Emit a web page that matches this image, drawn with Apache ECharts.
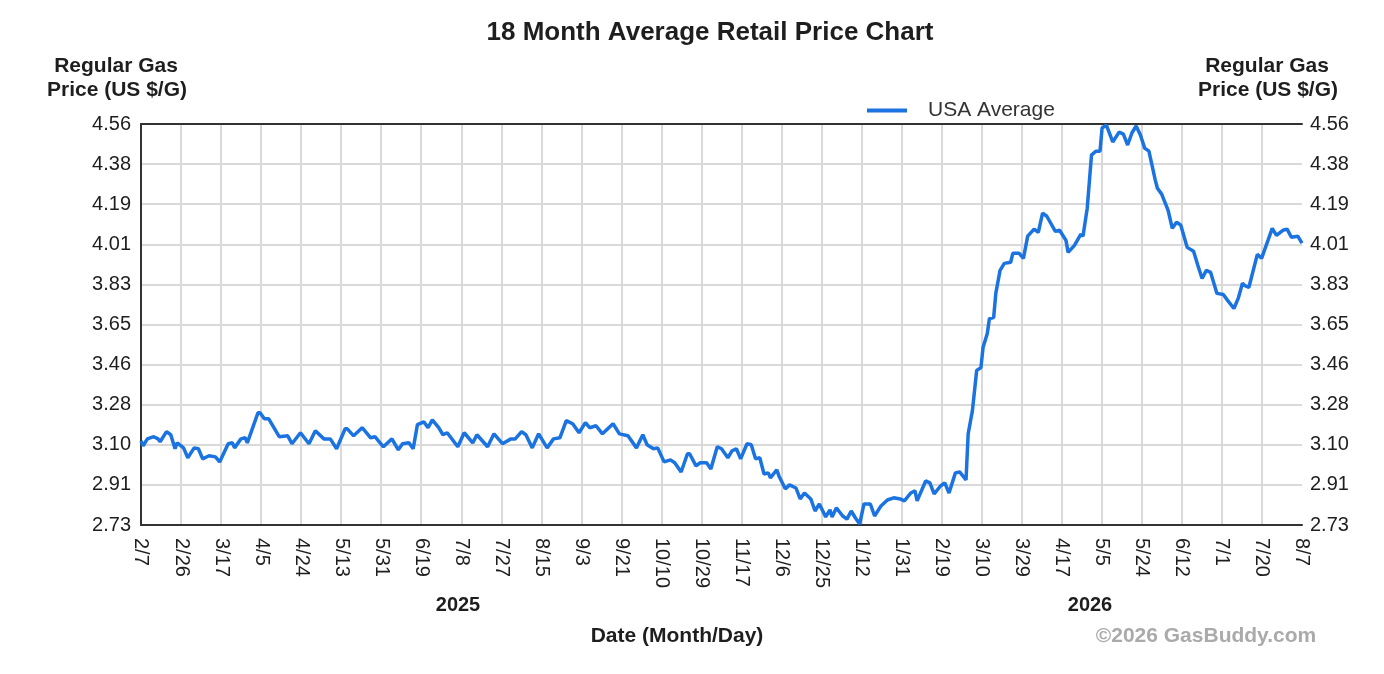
<!DOCTYPE html>
<html>
<head>
<meta charset="utf-8">
<title>18 Month Average Retail Price Chart</title>
<script src="https://cdn.jsdelivr.net/npm/echarts@6/dist/echarts.min.js"></script>
<style>
  html, body { margin: 0; padding: 0; background: #fff; }
  #chart { width: 1384px; height: 674px; }
</style>
</head>
<body>
<div id="chart"></div>
<script>
// days counted from the first date on the axis (2/7/2025)
const START = Date.UTC(2025, 1, 7);
const SPAN_DAYS = 546;
const TICK_COUNT = 29;

const dayOffsets = [
  0, 1, 3, 6, 8, 9, 12, 14, 16, 17, 20, 22, 25, 27, 29, 32, 35, 37, 41, 43,
  44, 47, 49, 50, 55, 56, 58, 60, 65, 69, 71, 75, 79, 82, 86, 89, 92, 96, 97, 100,
  104, 108, 110, 114, 118, 121, 123, 126, 128, 130, 133, 135, 137, 140, 142, 144, 149, 152, 156, 158,
  163, 166, 170, 174, 176, 179, 181, 184, 187, 191, 194, 197, 200, 203, 206, 209, 211, 214, 217, 222,
  225, 229, 233, 236, 238, 241, 243, 246, 249, 251, 254, 257, 258, 261, 263, 266, 268, 271, 273, 276,
  278, 280, 282, 285, 287, 289, 291, 293, 295, 296, 299, 300, 303, 305, 308, 310, 312, 315, 317, 319,
  322, 324, 325, 327, 330, 332, 334, 336, 338, 340, 343, 345, 348, 351, 354, 357, 359, 362, 364, 365,
  369, 371, 373, 376, 378, 380, 383, 385, 388, 389, 391, 393, 395, 396, 398, 399, 401, 402, 404, 406,
  409, 410, 413, 415, 417, 420, 422, 424, 426, 430, 432, 435, 436, 439, 442, 443, 445, 447, 449, 451,
  452, 454, 457, 460, 462, 464, 466, 468, 470, 472, 474, 477, 478, 480, 483, 485, 487, 489, 492, 495,
  497, 499, 501, 503, 506, 509, 511, 514, 516, 518, 519, 521, 525, 527, 530, 532, 534, 537, 539, 541,
  544, 546
];

const usaAverage = [
  3.114, 3.091, 3.123, 3.133, 3.123, 3.110, 3.156, 3.142, 3.078, 3.105, 3.082, 3.037, 3.082, 3.078, 3.032, 3.046, 3.041, 3.018, 3.101, 3.105,
  3.082, 3.123, 3.128, 3.105, 3.242, 3.242, 3.215, 3.215, 3.133, 3.137, 3.101, 3.151, 3.101, 3.160, 3.123, 3.123, 3.078, 3.169, 3.169, 3.137,
  3.174, 3.128, 3.133, 3.087, 3.123, 3.073, 3.101, 3.105, 3.078, 3.188, 3.201, 3.174, 3.210, 3.174, 3.142, 3.151, 3.087, 3.151, 3.105, 3.142,
  3.087, 3.146, 3.101, 3.123, 3.123, 3.156, 3.142, 3.082, 3.146, 3.082, 3.123, 3.128, 3.206, 3.192, 3.151, 3.197, 3.174, 3.183, 3.146, 3.192,
  3.146, 3.137, 3.082, 3.142, 3.096, 3.078, 3.082, 3.018, 3.027, 3.014, 2.972, 3.055, 3.055, 3.000, 3.014, 3.014, 2.986, 3.087, 3.078, 3.037,
  3.069, 3.078, 3.032, 3.101, 3.096, 3.032, 3.037, 2.963, 2.968, 2.945, 2.982, 2.954, 2.895, 2.913, 2.899, 2.849, 2.876, 2.849, 2.794, 2.826,
  2.767, 2.799, 2.767, 2.808, 2.771, 2.757, 2.794, 2.762, 2.735, 2.826, 2.826, 2.771, 2.817, 2.844, 2.854, 2.849, 2.840, 2.876, 2.886, 2.840,
  2.931, 2.922, 2.872, 2.908, 2.922, 2.876, 2.968, 2.972, 2.936, 3.146, 3.252, 3.435, 3.448, 3.540, 3.604, 3.672, 3.677, 3.787, 3.892, 3.924,
  3.929, 3.970, 3.970, 3.947, 4.048, 4.080, 4.066, 4.153, 4.139, 4.070, 4.075, 4.029, 3.974, 4.006, 4.057, 4.048, 4.176, 4.418, 4.436, 4.436,
  4.542, 4.555, 4.478, 4.523, 4.514, 4.464, 4.519, 4.551, 4.510, 4.450, 4.436, 4.304, 4.267, 4.240, 4.167, 4.084, 4.112, 4.098, 3.997, 3.979,
  3.915, 3.855, 3.892, 3.883, 3.787, 3.782, 3.755, 3.718, 3.764, 3.833, 3.823, 3.814, 3.965, 3.947, 4.029, 4.084, 4.052, 4.075, 4.080, 4.043,
  4.048, 4.016
];

const Y_MIN = 2.73;
const Y_MAX = 4.56;
const Y_STEP = 0.183;

const FONT = '"Liberation Sans", Arial, sans-serif';
const FRAME = { show: true, lineStyle: { color: '#333', width: 2 } };
// inner grid only; the frame edges come from the axis lines
const GRID_LINES = { show: true, showMinLine: false, showMaxLine: false, lineStyle: { color: '#d9d9d9', width: 2 } };

function dayLabel(v) {
  // ticks fall between days; the source rounds up to the next day
  const d = new Date(START + Math.ceil(v - 1e-6) * 86400000);
  return (d.getUTCMonth() + 1) + '/' + d.getUTCDate();
}

function priceLabel(v) {
  return (Math.round(v * 100 + 1e-6) / 100).toFixed(2);
}

function yAxis(position) {
  return {
    type: 'value',
    position: position,
    min: Y_MIN,
    max: Y_MAX,
    interval: Y_STEP,
    axisLine: FRAME,
    axisTick: { show: false },
    axisLabel: {
      formatter: priceLabel,
      color: '#1e1e1e',
      fontSize: 20,
      fontFamily: FONT,
      margin: position === 'left' ? 10 : 8
    },
    splitLine: position === 'left' ? GRID_LINES : { show: false }
  };
}

function label(text, x, y, size, fill) {
  return {
    type: 'text',
    x: x,
    y: y,
    style: {
      text: text,
      fill: fill || '#1e1e1e',
      font: 'bold ' + (size || 21) + 'px ' + FONT,
      align: 'center',
      verticalAlign: 'middle'
    }
  };
}

const chart = echarts.init(document.getElementById('chart'));

chart.setOption({
  animation: false,
  backgroundColor: '#fff',
  grid: {
    left: 141,
    right: 82,
    top: 124,
    bottom: 149
  },
  legend: {
    data: ['USA Average'],
    left: 862,
    top: 95,
    icon: 'rect',
    itemWidth: 40,
    itemHeight: 4,
    textStyle: { color: '#333', fontSize: 21, fontFamily: FONT, padding: [0, 0, 0, 16] }
  },
  xAxis: [{
    type: 'value',
    min: 0,
    max: SPAN_DAYS,
    interval: SPAN_DAYS / TICK_COUNT,
    axisLine: FRAME,
    axisTick: { show: false },
    axisLabel: {
      formatter: dayLabel,
      rotate: -90,
      color: '#1e1e1e',
      fontSize: 20,
      fontFamily: FONT,
      margin: 13
    },
    splitLine: GRID_LINES
  }, {
    // top edge of the frame only
    type: 'value',
    position: 'top',
    min: 0,
    max: SPAN_DAYS,
    axisLine: FRAME,
    axisTick: { show: false },
    axisLabel: { show: false },
    splitLine: { show: false }
  }],
  yAxis: [yAxis('left'), yAxis('right')],
  series: [{
    name: 'USA Average',
    type: 'line',
    data: dayOffsets.map((d, i) => [d, usaAverage[i]]),
    showSymbol: false,
    lineStyle: { color: '#1a73e0', width: 3.5 },
    itemStyle: { color: '#1a73e0' },
    z: 3
  }],
  graphic: [
    label('18 Month Average Retail Price Chart', 710, 33, 26),
    label('Regular Gas', 116, 66),
    label('Price (US $/G)', 117, 90),
    label('Regular Gas', 1267, 66),
    label('Price (US $/G)', 1268, 90),
    label('2025', 458, 605, 20),
    label('2026', 1090, 605, 20),
    label('Date (Month/Day)', 677, 636),
    label('©2026 GasBuddy.com', 1206, 636, 21, '#aaa')
  ]
});
</script>
</body>
</html>
